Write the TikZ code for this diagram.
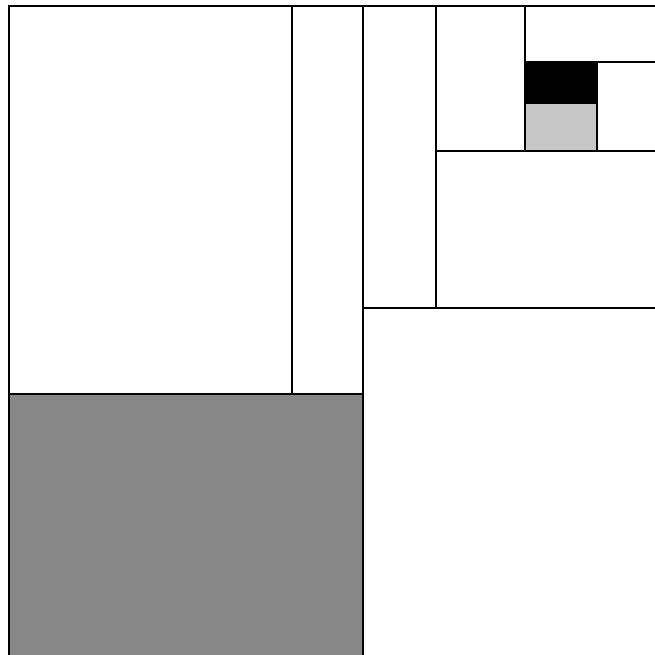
\documentclass[tikz,border=0pt]{standalone}
\begin{document}
\begin{tikzpicture}[x=1pt,y=-1pt,line width=2pt,
  edge/.style={draw=black,line width=2pt},
  darkgray/.style={fill=black!47},
  lightgray/.style={fill=black!22}]
\useasboundingbox (0,0) rectangle (654,655);
% fills
\fill[darkgray] (9,394) rectangle (363,656);
\fill[black] (525,62) rectangle (597,104);
\fill[lightgray] (525,104) rectangle (597,151);
% lines
\coordinate (tl) at (9,6);
\coordinate (tr) at (655,6);
\coordinate (bl) at (9,656);
\draw[edge] (bl) -- (tl) -- (tr);
\draw[edge] (292,6) -- (292,394);
\draw[edge] (363,6) -- (363,656);
\draw[edge] (9,394) -- (363,394);
\draw[edge] (363,308) -- (655,308);
\draw[edge] (436,6) -- (436,308);
\draw[edge] (436,151) -- (655,151);
\draw[edge] (525,6) -- (525,151);
\draw[edge] (525,62) -- (655,62);
\draw[edge] (597,62) -- (597,151);
\end{tikzpicture}
\end{document}
